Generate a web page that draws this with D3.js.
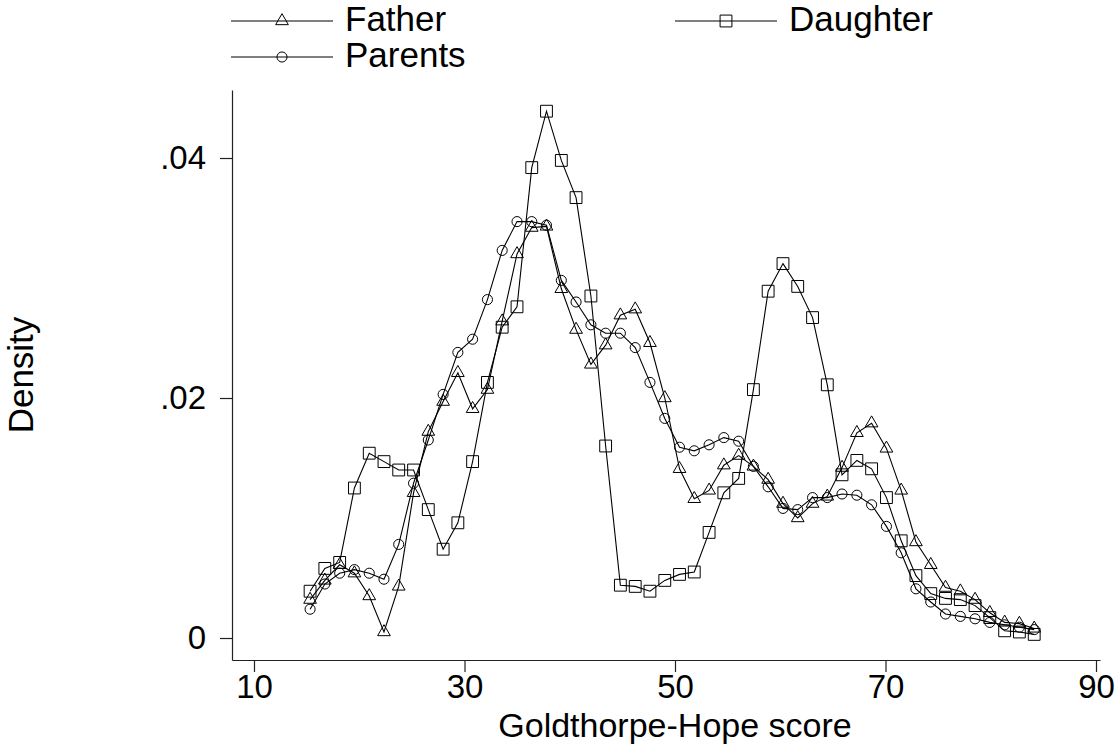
<!DOCTYPE html>
<html>
<head>
<meta charset="utf-8">
<script src="https://cdn.jsdelivr.net/npm/d3@7"></script>
<style>
  body { margin: 0; background: #fff; }
  text { font-family: "Liberation Sans", Arial, sans-serif; fill: #000; }
</style>
</head>
<body>
<div id="graf"></div>
<script>
// x grid (Goldthorpe-Hope score) shared by the three series
var scores = [15.33, 16.73, 18.14, 19.54, 20.95, 22.35, 23.75, 25.16, 26.56, 27.97,
  29.37, 30.77, 32.18, 33.58, 34.99, 36.39, 37.79, 39.20, 40.60, 42.01,
  43.41, 44.81, 46.22, 47.62, 49.03, 50.43, 51.83, 53.24, 54.64, 56.05,
  57.45, 58.85, 60.26, 61.66, 63.07, 64.47, 65.87, 67.28, 68.68, 70.09,
  71.49, 72.89, 74.30, 75.70, 77.11, 78.51, 79.91, 81.32, 82.72, 84.13];

var father = [0.0032, 0.0048, 0.0061, 0.0054, 0.0035, 0.0005, 0.0043, 0.0121, 0.0172, 0.0197,
  0.0221, 0.0191, 0.0207, 0.0264, 0.0320, 0.0342, 0.0343, 0.0291, 0.0257, 0.0228,
  0.0244, 0.0269, 0.0274, 0.0246, 0.0200, 0.0141, 0.0116, 0.0123, 0.0144, 0.0152,
  0.0143, 0.0132, 0.0112, 0.0100, 0.0112, 0.0118, 0.0142, 0.0171, 0.0179, 0.0158,
  0.0123, 0.0080, 0.0061, 0.0042, 0.0039, 0.0032, 0.0021, 0.0013, 0.0012, 0.0008];

var daughter = [0.0039, 0.0058, 0.0063, 0.0125, 0.0154, 0.0147, 0.0140, 0.0140, 0.0107, 0.0074,
  0.0096, 0.0147, 0.0213, 0.0259, 0.0276, 0.0392, 0.0439, 0.0398, 0.0367, 0.0285,
  0.0160, 0.0044, 0.0043, 0.0039, 0.0048, 0.0053, 0.0055, 0.0088, 0.0121, 0.0133,
  0.0207, 0.0289, 0.0312, 0.0293, 0.0267, 0.0211, 0.0136, 0.0148, 0.0141, 0.0117,
  0.0081, 0.0052, 0.0037, 0.0033, 0.0032, 0.0027, 0.0017, 0.0006, 0.0005, 0.0003];

var parents = [0.0024, 0.0045, 0.0054, 0.0057, 0.0054, 0.0049, 0.0078, 0.0129, 0.0165, 0.0203,
  0.0238, 0.0249, 0.0282, 0.0323, 0.0347, 0.0347, 0.0344, 0.0298, 0.0280, 0.0261,
  0.0254, 0.0254, 0.0242, 0.0213, 0.0183, 0.0159, 0.0156, 0.0161, 0.0167, 0.0164,
  0.0143, 0.0126, 0.0108, 0.0107, 0.0117, 0.0117, 0.0120, 0.0119, 0.0111, 0.0093,
  0.0071, 0.0041, 0.0030, 0.0020, 0.0018, 0.0016, 0.0013, 0.0011, 0.0009, 0.0007];

var xTicks = [10, 30, 50, 70, 90];
var yTicks = [0, 0.02, 0.04];
var yTickLabels = ["0", ".02", ".04"];

var width = 1117;
var height = 744;

var svg = d3.select("#graf").append("svg")
  .attr("width", width).attr("height", height);

// scales (axis lines sit a little outside the data range, like Stata)
var xScale = d3.scaleLinear().domain([7.91, 90.38]).range([232, 1100]);
var yScale = d3.scaleLinear().domain([-0.001833, 0.045667]).range([660, 90]);

// axes
svg.append("g")
  .attr("transform", "translate(0,660)")
  .call(d3.axisBottom(xScale).tickValues(xTicks).tickSize(12).tickSizeOuter(0).tickPadding(3));

svg.append("g")
  .attr("transform", "translate(232,0)")
  .call(d3.axisLeft(yScale).tickValues(yTicks).tickSize(12).tickSizeOuter(0).tickPadding(14)
    .tickFormat(function(d, i) { return yTickLabels[i]; }));

svg.selectAll(".domain, .tick line").attr("stroke", "#222").attr("stroke-width", 1.2);
svg.selectAll(".tick text").attr("font-size", 33).attr("font-family", "Liberation Sans").attr("fill", "#000");

// axis titles
svg.append("text")
  .attr("x", 675).attr("y", 737)
  .attr("text-anchor", "middle").attr("font-size", 34)
  .text("Goldthorpe-Hope score");

svg.append("text")
  .attr("transform", "translate(33,375) rotate(-90)")
  .attr("text-anchor", "middle").attr("font-size", 35)
  .text("Density");

// series
var series = [
  { name: "Father", values: father, symbol: d3.symbolTriangle, size: 70 },
  { name: "Daughter", values: daughter, symbol: d3.symbolSquare, size: 140 },
  { name: "Parents", values: parents, symbol: d3.symbolCircle, size: 80 }
];

var line = d3.line()
  .x(function(d, i) { return xScale(scores[i]); })
  .y(function(d) { return yScale(d); });

series.forEach(function(s) {
  svg.append("path")
    .attr("d", line(s.values))
    .attr("fill", "none")
    .attr("stroke", "#000")
    .attr("stroke-width", 1.1);

  svg.append("g")
    .selectAll("path")
    .data(s.values)
    .enter()
    .append("path")
    .attr("d", d3.symbol().type(s.symbol).size(s.size))
    .attr("transform", function(d, i) { return "translate(" + xScale(scores[i]) + "," + yScale(d) + ")"; })
    .attr("fill", "none")
    .attr("stroke", "#000")
    .attr("stroke-width", 1);
});

// legend
var legendPos = [
  { x: 231, y: 21 },
  { x: 675, y: 21 },
  { x: 231, y: 57 }
];

series.forEach(function(s, i) {
  var p = legendPos[i];
  var g = svg.append("g").attr("transform", "translate(" + p.x + "," + p.y + ")");
  g.append("line").attr("x1", 0).attr("x2", 102).attr("y1", 0).attr("y2", 0)
    .attr("stroke", "#000").attr("stroke-width", 1.1);
  g.append("path")
    .attr("d", d3.symbol().type(s.symbol).size(s.size))
    .attr("transform", "translate(51,0)")
    .attr("fill", "none").attr("stroke", "#000");
  g.append("text")
    .attr("x", 114).attr("y", 10)
    .attr("font-size", 35)
    .text(s.name);
});
</script>
</body>
</html>
